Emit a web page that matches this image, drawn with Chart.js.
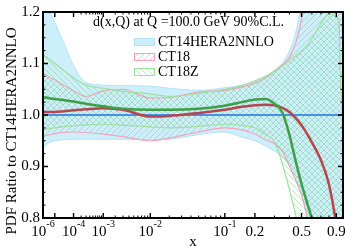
<!DOCTYPE html>
<html lang="en">
<head>
<meta charset="UTF-8">
<title>d(x,Q) PDF ratio</title>
<script src="https://cdn.jsdelivr.net/npm/chart.js"></script>
<style>
  html, body { margin: 0; padding: 0; background: #fff; }
  #wrap { width: 357px; height: 250px; }
</style>
</head>
<body>
<div id="wrap"><canvas id="ratio"></canvas></div>
<script>
// x grid shared by all curves
var xs = [1e-6, 2e-6, 5e-6, 1e-5, 3e-5, 1e-4, 3e-4, 1e-3, 3e-3, 1e-2, 2e-2, 5e-2,
          0.1, 0.15, 0.2, 0.25, 0.3, 0.35, 0.4, 0.45, 0.5, 0.55, 0.6, 0.7, 0.8, 0.9, 0.94, 0.955, 0.99];

// CT14HERA2NNLO band (reference, so central = 1)
var ct14Up  = [1.33, 1.26, 1.20, 1.18, 1.145, 1.096, 1.063, 1.058, 1.057, 1.056, 1.052, 1.048,
               1.053, 1.058, 1.066, 1.075, 1.087, 1.10, 1.125, 1.16, 1.22, 1.30, 1.40, 1.60, 1.80, 2.00, 2.10, 2.15, 2.25];
var ct14Lo  = [0.935, 0.942, 0.948, 0.950, 0.952, 0.953, 0.953, 0.953, 0.953, 0.952, 0.953, 0.962,
               0.967, 0.957, 0.950, 0.940, 0.930, 0.918, 0.900, 0.872, 0.843, 0.803, 0.758, 0.648, 0.500, 0.300, 0.260, 0.240, 0.200];
var ct14Mid = [1, 1, 1, 1, 1, 1, 1, 1, 1, 1, 1, 1, 1, 1, 1, 1, 1, 1, 1, 1, 1, 1, 1, 1, 1, 1, 1, 1, 1];

// CT18
var ct18Up  = [1.082, 1.078, 1.072, 1.068, 1.059, 1.047, 1.036, 1.047, 1.050, 1.033, 1.034, 1.045,
               1.048, 1.054, 1.062, 1.072, 1.085, 1.098, 1.112, 1.140, 1.185, 1.260, 1.350, 1.600, 1.900, 2.200, 2.300, 2.350, 2.400];
var ct18Lo  = [0.958, 0.960, 0.962, 0.964, 0.966, 0.967, 0.966, 0.963, 0.958, 0.950, 0.955, 0.967,
               0.975, 0.971, 0.963, 0.952, 0.944, 0.930, 0.902, 0.874, 0.845, 0.805, 0.760, 0.650, 0.500, 0.300, 0.250, 0.230, 0.200];
var ct18Mid = [1.006, 1.006, 1.006, 1.006, 1.007, 1.009, 1.011, 1.013, 1.010, 0.997, 0.998, 1.004,
               1.010, 1.016, 1.019, 1.020, 1.019, 1.014, 1.006, 0.994, 0.980, 0.964, 0.947, 0.912, 0.865, 0.785, 0.735, 0.712, 0.660];

// CT18Z
var ct18zUp  = [1.117, 1.113, 1.106, 1.100, 1.088, 1.072, 1.058, 1.052, 1.046, 1.041, 1.036, 1.042,
                1.050, 1.057, 1.066, 1.075, 1.085, 1.095, 1.105, 1.115, 1.125, 1.135, 1.148, 1.178, 1.197, 1.190, 1.184, 1.090, 1.000];
var ct18zLo  = [0.971, 0.972, 0.974, 0.975, 0.977, 0.979, 0.981, 0.982, 0.980, 0.977, 0.975, 0.978,
                0.982, 0.980, 0.975, 0.962, 0.948, 0.905, 0.855, 0.805, 0.750, 0.680, 0.600, 0.450, 0.300, 0.150, 0.100, 0.080, 0.050];
var ct18zMid = [1.035, 1.034, 1.032, 1.031, 1.029, 1.026, 1.022, 1.017, 1.012, 1.010, 1.010, 1.012,
                1.018, 1.025, 1.030, 1.031, 1.022, 1.005, 0.962, 0.910, 0.866, 0.831, 0.798, 0.722, 0.620, 0.500, 0.450, 0.430, 0.400];

// axis ticks
var xLabelTicks = [1e-6, 1e-4, 1e-3, 1e-2, 1e-1, 0.2, 0.5, 0.9];
var xMajorTicks = [1e-6, 1e-5, 1e-4, 1e-3, 1e-2, 1e-1, 0.2, 0.5, 0.9];
var xMinorTicks = [2e-4, 3e-4, 4e-4, 5e-4, 6e-4, 7e-4, 8e-4, 9e-4,
                   2e-3, 3e-3, 4e-3, 5e-3, 6e-3, 7e-3, 8e-3, 9e-3,
                   0.02, 0.03, 0.04, 0.05, 0.06, 0.07, 0.08, 0.09,
                   0.3, 0.4, 0.6, 0.7, 0.8];
var yLabelTicks = [0.8, 0.9, 1.0, 1.1, 1.2];
var yMinorTicks = [0.825, 0.85, 0.875, 0.925, 0.95, 0.975, 1.025, 1.05, 1.075, 1.125, 1.15, 1.175];

var legendNames = ['CT14HERA2NNLO', 'CT18', 'CT18Z'];
var titleText = 'd(x,Q) at Q =100.0 GeV 90%C.L.';

var XPOW = 0.2;   // x axis is linear in x^0.2
var SERIF = '"Liberation Serif", "Times New Roman", serif';

class PowerScale extends Chart.LinearScale {
  buildTicks() {
    return xMajorTicks.map(function (v) { return { value: v }; });
  }
  getPixelForValue(v) {
    var lo = Math.pow(this.min, XPOW), hi = Math.pow(this.max, XPOW);
    return this.getPixelForDecimal((Math.pow(v, XPOW) - lo) / (hi - lo));
  }
  getValueForPixel(p) {
    var lo = Math.pow(this.min, XPOW), hi = Math.pow(this.max, XPOW);
    return Math.pow(lo + this.getDecimalForPixel(p) * (hi - lo), 1 / XPOW);
  }
}
PowerScale.id = 'power';
PowerScale.defaults = {};
Chart.register(PowerScale);

function hatch(color, dir) {
  var c = document.createElement('canvas');
  c.width = 6; c.height = 6;
  var g = c.getContext('2d');
  g.strokeStyle = color;
  g.lineWidth = 0.7;
  g.beginPath();
  if (dir > 0) { g.moveTo(-1, 7); g.lineTo(7, -1); }
  else { g.moveTo(-1, -1); g.lineTo(7, 7); }
  g.stroke();
  return g.createPattern(c, 'repeat');
}

var blueFill = '#cdeefb';
var blueEdge = '#b4e2f5';
var pinkEdge = '#f3a5b8';
var greenEdge = '#9ee09e';
var pinkHatch = hatch('rgba(236,125,155,0.6)', 1);
var greenHatch = hatch('rgba(95,190,95,0.5)', -1);

function pts(ys) {
  return xs.map(function (x, i) { return { x: x, y: ys[i] }; });
}

function band(ys, color, fill, bg, order, width) {
  return {
    data: pts(ys),
    borderColor: color,
    borderWidth: width,
    backgroundColor: bg || 'transparent',
    fill: fill,
    order: order
  };
}

var frame = {
  id: 'frame',
  afterDraw: function (chart) {
    var ctx = chart.ctx, a = chart.chartArea;
    var sx = chart.scales.x, sy = chart.scales.y;
    ctx.save();
    ctx.strokeStyle = '#000';
    ctx.fillStyle = '#000';

    // ticks, pointing inward on all four sides
    function xt(v, len, w) {
      var p = sx.getPixelForValue(v);
      ctx.lineWidth = w;
      ctx.beginPath();
      ctx.moveTo(p, a.bottom); ctx.lineTo(p, a.bottom - len);
      ctx.moveTo(p, a.top); ctx.lineTo(p, a.top + len);
      ctx.stroke();
    }
    function yt(v, len, w) {
      var p = sy.getPixelForValue(v);
      ctx.lineWidth = w;
      ctx.beginPath();
      ctx.moveTo(a.left, p); ctx.lineTo(a.left + len, p);
      ctx.moveTo(a.right, p); ctx.lineTo(a.right - len, p);
      ctx.stroke();
    }
    xMajorTicks.forEach(function (v) { xt(v, 5, 1.4); });
    xMinorTicks.forEach(function (v) { xt(v, 2.5, 1); });
    yLabelTicks.forEach(function (v) { yt(v, 5, 1.4); });
    yMinorTicks.forEach(function (v) { yt(v, 2.5, 1); });

    ctx.lineWidth = 2;
    ctx.strokeRect(a.left, a.top, a.right - a.left, a.bottom - a.top);

    // y tick labels
    ctx.font = '15px ' + SERIF;
    ctx.textAlign = 'right';
    ctx.textBaseline = 'middle';
    yLabelTicks.forEach(function (v) {
      ctx.fillText(v.toFixed(1), a.left - 3, sy.getPixelForValue(v));
    });

    // x tick labels, powers of ten with a raised exponent
    ctx.textBaseline = 'alphabetic';
    xLabelTicks.forEach(function (v) {
      var p = sx.getPixelForValue(v);
      if (v < 0.15) {
        var e = String(Math.round(Math.log10(v)));
        ctx.font = '15px ' + SERIF;
        var w1 = ctx.measureText('10').width;
        ctx.font = '10px ' + SERIF;
        var w2 = ctx.measureText(e).width;
        var x0 = p - (w1 + w2) / 2;
        ctx.textAlign = 'left';
        ctx.font = '15px ' + SERIF;
        ctx.fillText('10', x0, 236);
        ctx.font = '10px ' + SERIF;
        ctx.fillText(e, x0 + w1, 227);
      } else {
        ctx.textAlign = 'center';
        ctx.font = '15px ' + SERIF;
        ctx.fillText(v.toFixed(1), p, 236);
      }
    });

    // axis titles
    ctx.font = '15px ' + SERIF;
    ctx.textAlign = 'center';
    ctx.textBaseline = 'middle';
    ctx.fillText('x', 193, 242);
    ctx.save();
    ctx.translate(12.5, 131);
    ctx.rotate(-Math.PI / 2);
    ctx.font = '15px ' + SERIF;
    ctx.fillText('PDF Ratio to CT14HERA2NNLO', 0, 0);
    ctx.restore();

    // title and legend inside the frame
    ctx.font = '14px ' + SERIF;
    ctx.textAlign = 'left';
    ctx.fillText(titleText, 93, 22);
    var fills = [blueFill, pinkHatch, greenHatch];
    var edges = [blueEdge, pinkEdge, greenEdge];
    legendNames.forEach(function (name, i) {
      var ly = 42 + i * 15;
      ctx.fillStyle = fills[i];
      ctx.fillRect(134, ly - 4, 21, 8);
      ctx.strokeStyle = edges[i];
      ctx.lineWidth = 1;
      ctx.strokeRect(134.5, ly - 3.5, 20, 7);
      ctx.fillStyle = '#000';
      ctx.fillText(name, 158, ly);
    });
    ctx.restore();
  }
};

new Chart(document.getElementById('ratio'), {
  type: 'line',
  data: {
    datasets: [
      band(ct14Up, blueEdge, '+1', blueFill, 10, 1),
      band(ct14Lo, blueEdge, false, null, 9, 1),
      band(ct18Up, pinkEdge, '+1', pinkHatch, 8, 1.2),
      band(ct18Lo, pinkEdge, false, null, 7, 1.2),
      band(ct18zUp, greenEdge, '+1', greenHatch, 6, 1.2),
      band(ct18zLo, greenEdge, false, null, 5, 1.2),
      band(ct14Mid, '#4a90e6', false, null, 3, 2),
      band(ct18Mid, '#b5464e', false, null, 2, 2.5),
      band(ct18zMid, '#3f9e47', false, null, 1, 2.5)
    ]
  },
  options: {
    responsive: true,
    maintainAspectRatio: false,
    animation: false,
    events: [],
    layout: { padding: { left: 43, right: 14, top: 12, bottom: 32 } },
    elements: {
      point: { radius: 0 },
      line: { cubicInterpolationMode: 'monotone' }
    },
    plugins: {
      legend: { display: false },
      tooltip: { enabled: false },
      filler: { propagate: false }
    },
    scales: {
      x: { type: 'power', min: 1e-6, max: 1, display: false },
      y: { type: 'linear', min: 0.8, max: 1.2, display: false }
    }
  },
  plugins: [frame]
});
</script>
</body>
</html>
